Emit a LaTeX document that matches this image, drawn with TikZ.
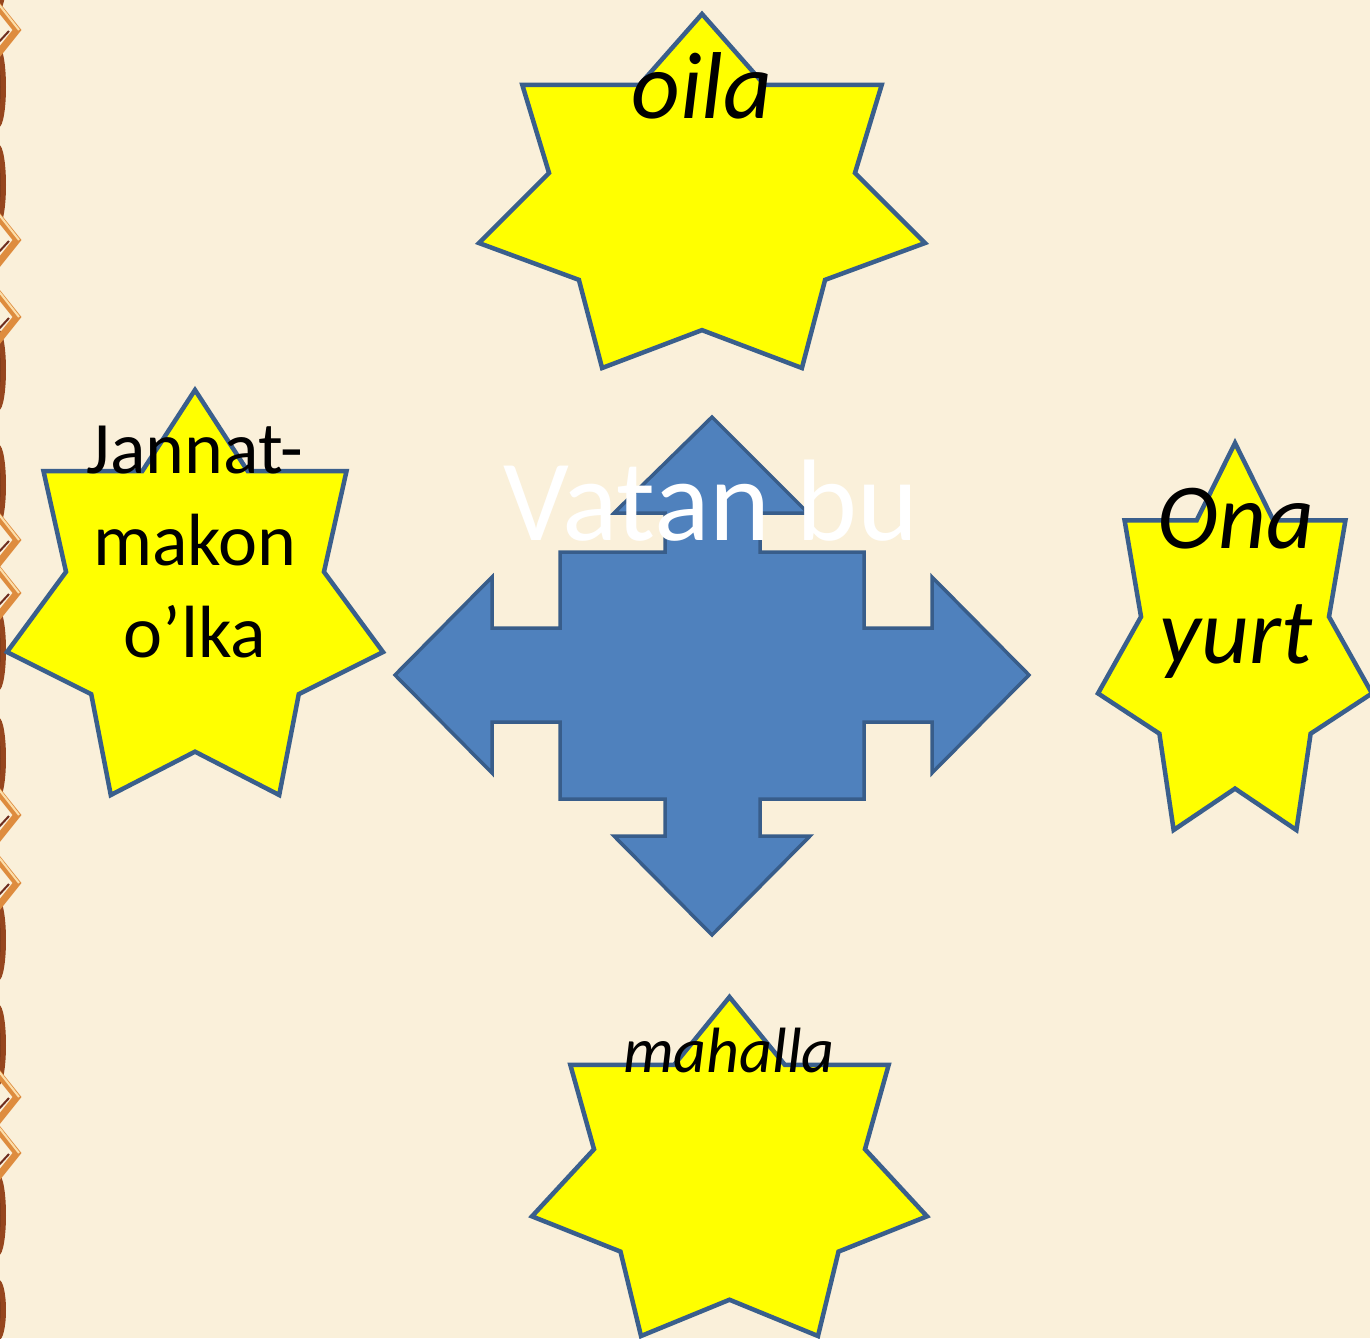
\documentclass[tikz,border=0pt]{standalone}
\usepackage{fontspec}
\setmainfont{Carlito}
\definecolor{bgc}{RGB}{250,240,218}
\definecolor{starfill}{RGB}{255,255,0}
\definecolor{edge}{RGB}{58,95,140}
\definecolor{crossfill}{RGB}{79,129,189}
\definecolor{crossedge}{RGB}{56,93,138}
\definecolor{ropeor}{RGB}{222,140,62}
\definecolor{ropelt}{RGB}{252,222,170}
\definecolor{ropedk}{RGB}{110,45,30}
\definecolor{ovalc}{RGB}{150,70,30}
\tikzset{
  starshape/.style={fill=starfill, draw=edge, line width=4.5pt, line join=miter},
  crossshape/.style={fill=crossfill, draw=crossedge, line width=3.5pt, line join=miter},
  lbl/.style={anchor=base, inner sep=0pt, text=black, align=center},
}
\newcommand{\drawstarseven}[4]{%
  \begin{scope}[shift={(#1,#2)}, xscale=#3, yscale=#4]
    \path[starshape] (0.5,0) -- (0.64,0.2) -- (0.903,0.2) -- (0.843,0.449) -- (1,0.647)
      -- (0.776,0.751) -- (0.724,1) -- (0.5,0.893) -- (0.276,1) -- (0.224,0.751)
      -- (0,0.647) -- (0.157,0.449) -- (0.097,0.2) -- (0.36,0.2) -- cycle;
  \end{scope}}
\newcommand{\chev}[1]{%
  \draw[ropeor, line width=7pt, line join=miter] (-3,#1-25) -- (17,#1) -- (-3,#1+25);
  \draw[ropelt, line width=2pt] (-3,#1-28) -- (19,#1);
  \draw[ropedk, line width=2pt] (-3,#1+14) -- (9,#1+1);}
\newcommand{\ovl}[2]{%
  \fill[ovalc] (-1,#1) ellipse (7 and #2);
  \fill[ovalc!65!black] (-3,#1) ellipse (3.5 and #2-8);}
\begin{document}
\begin{tikzpicture}[x=1pt, y=-1pt]
  \fill[bgc] (0,0) rectangle (1370,1338);
  \useasboundingbox (0,0) rectangle (1370,1338);
  % left border decoration
  \ovl{-20}{30}
  \ovl{87}{40} \ovl{185}{40}
  \ovl{370}{40} \ovl{485}{40}
  \ovl{650}{40} \ovl{758}{40}
  \ovl{940}{40} \ovl{1045}{40}
  \ovl{1215}{40} \ovl{1310}{30}
  \chev{30} \chev{240} \chev{317} \chev{540} \chev{593}
  \chev{815} \chev{883} \chev{1097} \chev{1153}
  % stars
  \drawstarseven{479}{14}{446}{354}
  \drawstarseven{7}{390}{376}{405}
  \drawstarseven{1098}{443}{274}{387}
  \drawstarseven{532}{997}{395}{339}
  % cross arrow
  \path[crossshape] (712,417) -- (808,513) -- (760,513) -- (760,552) -- (864,552)
    -- (864,628) -- (932,628) -- (932,577) -- (1029,675) -- (932,773) -- (932,722)
    -- (864,722) -- (864,799) -- (760,799) -- (760,836) -- (810,836) -- (712,935)
    -- (614,836) -- (665,836) -- (665,799) -- (560,799) -- (560,722) -- (492,722)
    -- (492,773) -- (395,675) -- (492,577) -- (492,628) -- (560,628) -- (560,552)
    -- (665,552) -- (665,513) -- (614,513) -- cycle;
  % labels
  \node[lbl] (oila) at (702,118) {\fontsize{95}{114}\selectfont\itshape oila};
  \node[lbl] (jannat1) at (195,473) {\fontsize{74}{92}\selectfont Jannat-};
  \node[lbl] (jannat2) at (195,565) {\fontsize{74}{92}\selectfont makon};
  \node[lbl] (jannat3) at (195,657) {\fontsize{74}{92}\selectfont o’lka};
  \node[lbl] (ona) at (1236,548) {\fontsize{93}{115}\selectfont\itshape Ona};
  \node[lbl] (yurt) at (1236,663) {\fontsize{93}{115}\selectfont\itshape yurt};
  \node[lbl] (mahalla) at (729,1072) {\fontsize{64}{77}\selectfont\itshape mahalla};
  \node[lbl, text=white] (vatan) at (711,540) {\fontsize{116}{139}\selectfont Vatan bu};
\end{tikzpicture}
\end{document}
